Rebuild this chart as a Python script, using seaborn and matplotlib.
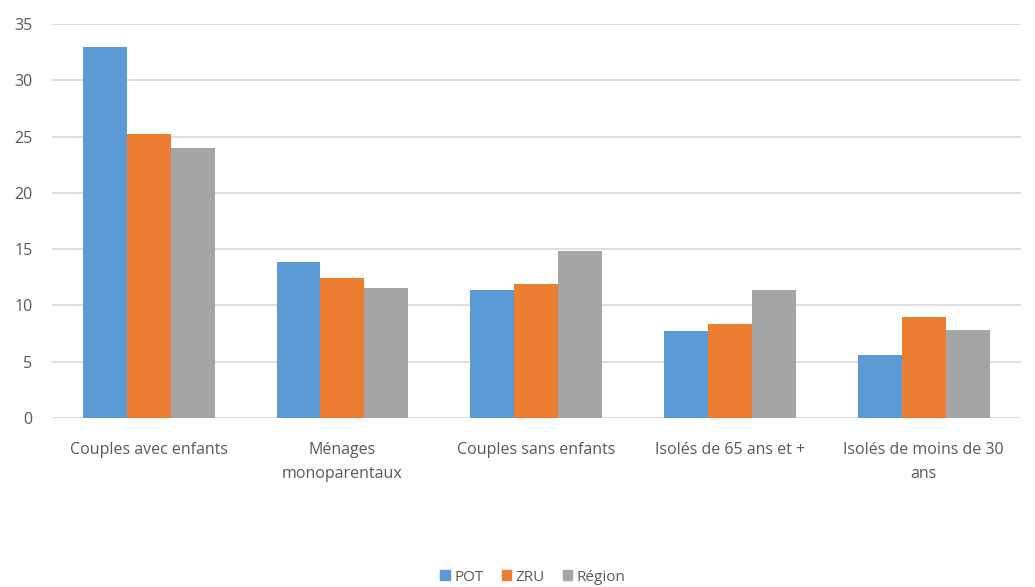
import numpy as np
import pandas as pd
import matplotlib.pyplot as plt
import seaborn as sns

sns.set_theme(style="white")
plt.rcParams["font.family"] = ["Open Sans", "DejaVu Sans"]

# data
categories = ["Couples avec enfants", "Ménages\nmonoparentaux", "Couples sans enfants",
              "Isolés de 65 ans et +", "Isolés de moins de 30\nans"]
pot = [33.0, 13.85, 11.4, 7.7, 5.6]
zru = [25.2, 12.45, 11.9, 8.35, 8.95]
region = [24.0, 11.55, 14.85, 11.4, 7.8]
series = ["POT", "ZRU", "Région"]
colors = ["#5B9BD5", "#ED7D31", "#A5A5A5"]

df = pd.DataFrame({
    "cat": categories * 3,
    "val": pot + zru + region,
    "serie": np.repeat(series, len(categories)),
})

fig = plt.figure(figsize=(10.35, 5.87), dpi=100)
ax = fig.add_axes([0.05, 0.288, 0.936, 0.671])

sns.barplot(data=df, x="cat", y="val", hue="serie", palette=colors,
            width=0.68, saturation=1, linewidth=0, ax=ax, zorder=3)

ax.set_ylim(0, 35)
ax.set_yticks(range(0, 36, 5))
ax.yaxis.grid(True, color="#d9d9d9", linewidth=1.2, zorder=0)
ax.set_axisbelow(True)
for s in ax.spines.values():
    s.set_visible(False)
ax.set_xlabel("")
ax.set_ylabel("")
ax.tick_params(axis="both", length=0, colors="#595959", labelsize=11.5)
ax.tick_params(axis="y", pad=14)
ax.tick_params(axis="x", pad=17)
for lbl in ax.get_xticklabels():
    lbl.set_linespacing(1.7)

ax.get_legend().remove()
handles = [plt.Rectangle((0, 0), 1, 1, color=c) for c in colors]
leg = fig.legend(handles, series, loc="center", bbox_to_anchor=(0.515, 0.017), ncol=3,
                 frameon=False, handlelength=0.6, handleheight=0.6, handletextpad=0.3,
                 columnspacing=1.2, fontsize=11)
for t in leg.get_texts():
    t.set_color("#595959")

plt.savefig("out.png")
